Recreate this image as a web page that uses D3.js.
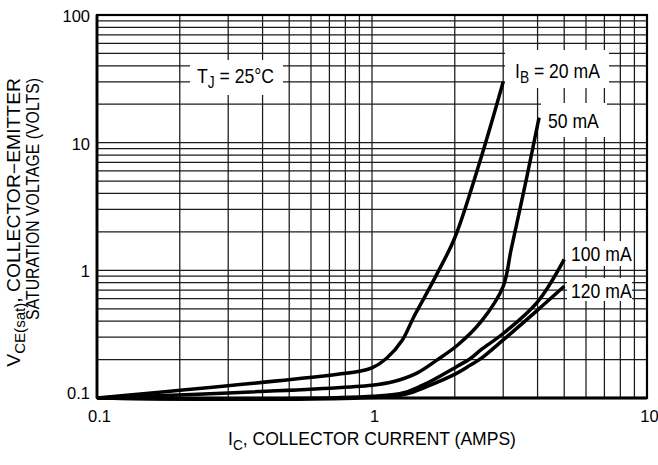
<!DOCTYPE html>
<html><head><meta charset="utf-8">
<script src="https://cdn.jsdelivr.net/npm/d3@7"></script>
<style>
body{margin:0;background:#fff}
svg{display:block}
text{font-family:'Liberation Sans',Arial,Helvetica,sans-serif;fill:#000}
</style>
</head><body>
<svg id="chart" width="658" height="465"></svg>
<script>
// ---- data ----
const seriesNames = ["20 mA", "50 mA", "100 mA", "120 mA"];
const ic20  = [0.1, 0.9, 1.0, 1.13, 1.29, 1.41, 1.58, 1.75, 2.0, 2.5, 3.0];
const v20   = [0.1, 0.162, 0.172, 0.205, 0.285, 0.42, 0.66, 1.0, 1.8, 7.8, 30];
const ic50  = [0.1, 1.0, 1.19, 1.45, 1.72, 2.05, 2.5, 3.0, 3.2, 3.46, 3.66, 4.05];
const v50   = [0.1, 0.126, 0.134, 0.156, 0.198, 0.26, 0.4, 0.75, 1.43, 3.1, 5.45, 15.7];
const ic100 = [0.1, 1.26, 1.53, 2.03, 2.28, 2.5, 3.0, 4.0, 5.0];
const v100  = [0.1, 0.108, 0.126, 0.176, 0.204, 0.24, 0.32, 0.567, 1.22];
const ic120 = [0.1, 1.3, 1.58, 2.03, 2.28, 2.5, 3.0, 4.0, 5.0];
const v120  = [0.1, 0.106, 0.123, 0.156, 0.181, 0.205, 0.285, 0.488, 0.75];
const xTickValues = [0.1, 1, 10];
const xTickLabels = ["0.1", "1", "10"];
const yTickValues = [0.1, 1, 10, 100];
const yTickLabels = ["0.1", "1", "10", "100"];

// ---- layout ----
const svg = d3.select("#chart");
const x = d3.scaleLog().domain([0.1, 10]).range([97, 647]);
const y = d3.scaleLog().domain([0.1, 100]).range([398, 15]);
const FONT = 20, SX = 0.88;

// grid
const grid = svg.append("g").attr("stroke", "#1a1a1a").attr("stroke-width", 1.25);
grid.selectAll("line.v").data(x.ticks()).join("line").attr("class","v")
  .attr("x1", d => x(d)).attr("x2", d => x(d))
  .attr("y1", y.range()[0]).attr("y2", y.range()[1]);
grid.selectAll("line.h").data(y.ticks()).join("line").attr("class","h")
  .attr("y1", d => y(d)).attr("y2", d => y(d))
  .attr("x1", x.range()[0]).attr("x2", x.range()[1]);

// white label boxes
const boxes = [[190,60,93,35],[505,50,104,38],[541,103,66,34],[567,241,65,25],[567,278,65,23]];
svg.append("g").selectAll("rect").data(boxes).join("rect")
  .attr("x", d => d[0]).attr("y", d => d[1]).attr("width", d => d[2]).attr("height", d => d[3])
  .attr("fill", "#fff");

// curves
const series = [[ic20,v20],[ic50,v50],[ic100,v100],[ic120,v120]].map(([a,b]) => a.map((c,i)=>[c,b[i]]));
const line = d3.line().x(d => x(d[0])).y(d => y(d[1])).curve(d3.curveCatmullRom.alpha(0.5));
svg.append("g").selectAll("path").data(series).join("path")
  .attr("d", line).attr("fill", "none").attr("stroke", "#000")
  .attr("stroke-width", 3.5).attr("stroke-linejoin", "round").attr("stroke-linecap", "butt");

// frame
svg.append("rect").attr("x", x.range()[0]).attr("y", y.range()[1])
  .attr("width", x.range()[1]-x.range()[0]).attr("height", y.range()[0]-y.range()[1])
  .attr("fill", "none").attr("stroke", "#000").attr("stroke-width", 2.2);
svg.append("line").attr("x1", x.range()[0]).attr("x2", x.range()[1])
  .attr("y1", y.range()[0]).attr("y2", y.range()[0]).attr("stroke","#000").attr("stroke-width",3);
svg.append("line").attr("x1", x.range()[0]).attr("x2", x.range()[0])
  .attr("y1", y.range()[0]).attr("y2", y.range()[1]).attr("stroke","#000").attr("stroke-width",2.8);

// text helper: parts = [[str, isSub], ...]
function label(px, py, parts, opts) {
  opts = opts || {};
  const fs = opts.fs || FONT;
  const g = svg.append("g");
  const t = g.append("text").attr("font-size", fs).attr("text-anchor", opts.anchor || "start");
  let lowered = false;
  parts.forEach(([s, sub]) => {
    const ts = t.append("tspan").text(s);
    if (sub && !lowered) { ts.attr("font-size", fs*0.78).attr("dy", fs*0.25); lowered = true; }
    else if (!sub && lowered) { ts.attr("dy", -fs*0.25); lowered = false; }
  });
  let sx = opts.sx || SX;
  if (opts.fit) sx = opts.fit / t.node().getComputedTextLength();
  const rot = opts.rot ? ` rotate(${opts.rot})` : "";
  g.attr("transform", `translate(${px},${py})${rot} scale(${sx},1)`);
  return g;
}

// tick labels via axes (labels only)
const xAxis = d3.axisBottom(x).tickValues(xTickValues).tickSize(0).tickPadding(0)
  .tickFormat((d,i) => xTickLabels[i]);
const gx = svg.append("g").attr("transform", `translate(2,${y.range()[0]})`).call(xAxis);
gx.select(".domain").remove();
gx.selectAll("text").attr("font-size", 16.5).attr("dy", null).attr("y", 24)
  .attr("font-family", "'Liberation Sans',Arial,sans-serif").attr("fill","#000");

const yAxis = d3.axisLeft(y).tickValues(yTickValues).tickSize(0).tickPadding(7)
  .tickFormat((d,i) => yTickLabels[i]);
const gy = svg.append("g").attr("transform", `translate(${x.range()[0]},0)`).call(yAxis);
gy.select(".domain").remove();
gy.selectAll("text").attr("font-size", 16.5).attr("dy", (d) => d === 0.1 ? "0.05em" : "0.4em")
  .attr("font-family", "'Liberation Sans',Arial,sans-serif").attr("fill","#000");

// annotations
label(197, 83, [["T"],["J",true],[" = 25°C"]]);
label(515, 78, [["I"],["B",true],[" = 20 mA"]]);
label(548, 128, [["50 mA"]]);
label(571, 261, [["100 mA"]]);
label(571, 298, [["120 mA"]]);

// axis titles
label(372, 445, [["I"],["C",true],[", COLLECTOR CURRENT (AMPS)"]], {anchor:"middle", fs:18, fit:288});
label(20, 78, [["V"],["CE(sat)",true],[", COLLECTOR−EMITTER"]], {anchor:"end", rot:-90, fs:18, fit:289});
label(39, 78, [["SATURATION VOLTAGE (VOLTS)"]], {anchor:"end", rot:-90, fs:18, fit:242});
</script>
</body></html>
